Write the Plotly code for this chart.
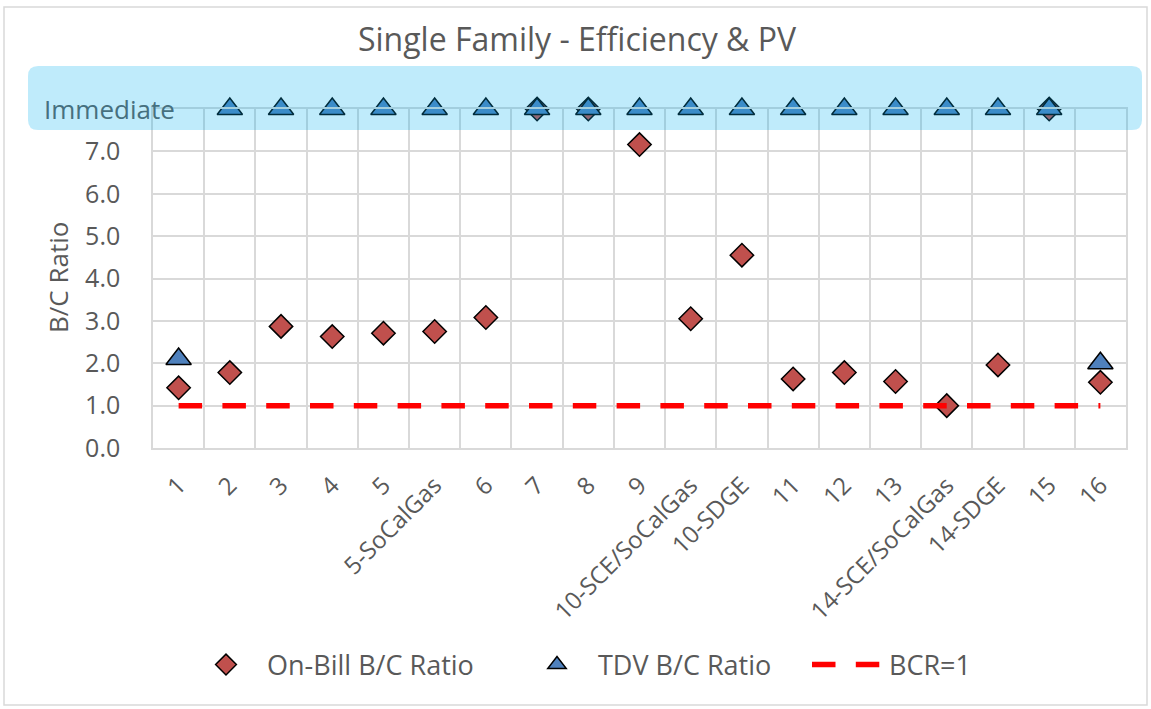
import plotly.graph_objects as go

categories = ["1", "2", "3", "4", "5", "5-SoCalGas", "6", "7", "8", "9",
              "10-SCE/SoCalGas", "10-SDGE", "11", "12", "13",
              "14-SCE/SoCalGas", "14-SDGE", "15", "16"]
IMMEDIATE = 8.0  # plotted position of "Immediate"
on_bill = [1.42, 1.78, 2.87, 2.63, 2.71, 2.75, 3.08, IMMEDIATE, IMMEDIATE, 7.16,
           3.05, 4.55, 1.63, 1.78, 1.57, 1.0, 1.96, IMMEDIATE, 1.55]
tdv = [2.1, IMMEDIATE, IMMEDIATE, IMMEDIATE, IMMEDIATE, IMMEDIATE, IMMEDIATE, IMMEDIATE,
       IMMEDIATE, IMMEDIATE, IMMEDIATE, IMMEDIATE, IMMEDIATE, IMMEDIATE, IMMEDIATE,
       IMMEDIATE, IMMEDIATE, IMMEDIATE, 2.0]
bcr = [1.0] * len(categories)
y_tickvals = [0, 1, 2, 3, 4, 5, 6, 7, 8]
y_ticktext = ["0.0", "1.0", "2.0", "3.0", "4.0", "5.0", "6.0", "7.0", ""]
immediate_label = "Immediate"

FONT = "Open Sans, sans-serif"
GREY = "#595959"
W, H = 1151, 709
ML, MR, MT, MB = 153, 25, 109, 261
PW, PH = W - ML - MR, H - MT - MB


def px_x(p):
    return (p - ML) / PW


def px_y(p):
    return (H - MB - p) / PH


fig = go.Figure()
fig.add_trace(go.Scatter(
    x=categories, y=on_bill, mode="markers", name="On-Bill B/C Ratio",
    marker=dict(symbol="diamond", size=18, color="#C0504D",
                line=dict(color="black", width=1.5)),
    cliponaxis=False, legend="legend"))
fig.add_trace(go.Scatter(
    x=categories, y=tdv, mode="markers", name="TDV B/C Ratio",
    marker=dict(symbol="triangle-up", size=22, color="#4F81BD",
                line=dict(color="black", width=1.5)),
    cliponaxis=False, legend="legend2"))
fig.add_trace(go.Scatter(
    x=categories, y=bcr, mode="lines", name="BCR=1",
    line=dict(color="#FF0000", width=5.5, dash="23.5px,20.3px"), legend="legend3"))

# rounded highlight band around "Immediate"
x0, x1, y0, y1 = px_x(28), px_x(1142), px_y(130), px_y(66)
rx, ry = 10 / PW, 10 / PH
path = (f"M {x0+rx},{y0} L {x1-rx},{y0} Q {x1},{y0} {x1},{y0+ry} "
        f"L {x1},{y1-ry} Q {x1},{y1} {x1-rx},{y1} L {x0+rx},{y1} "
        f"Q {x0},{y1} {x0},{y1-ry} L {x0},{y0+ry} Q {x0},{y0} {x0+rx},{y0} Z")
fig.add_shape(type="path", path=path, xref="paper", yref="paper",
              fillcolor="rgba(0,176,240,0.25)", line=dict(width=0), layer="above")

# outer chart frame
fig.add_shape(type="rect", xref="paper", yref="paper",
              x0=px_x(4), x1=px_x(1147), y0=px_y(705), y1=px_y(7),
              line=dict(color="#D9D9D9", width=1.5), fillcolor="rgba(0,0,0,0)",
              layer="below")

fig.add_annotation(text="B/C Ratio", xref="paper", yref="paper",
                   x=px_x(58), y=px_y(278), xanchor="center", yanchor="middle",
                   textangle=-90, showarrow=False,
                   font=dict(family=FONT, size=26, color=GREY))
fig.add_annotation(text=immediate_label, xref="paper", yref="y",
                   x=px_x(109.5), y=IMMEDIATE, xanchor="center", yanchor="middle",
                   showarrow=False,
                   font=dict(family=FONT, size=26, color="#46707F"))

leg_common = dict(orientation="h", yanchor="middle", y=px_y(665), xanchor="left",
                  font=dict(family=FONT, size=27, color=GREY), itemwidth=72,
                  bgcolor="rgba(0,0,0,0)")

fig.update_layout(
    width=W, height=H,
    margin=dict(l=ML, r=MR, t=MT, b=MB),
    paper_bgcolor="white", plot_bgcolor="white",
    font=dict(family=FONT, color=GREY, size=24),
    title=dict(text="Single Family - Efficiency & PV", x=577 / W, xanchor="center",
               y=1 - 40 / H, yanchor="middle",
               font=dict(family=FONT, size=32, color=GREY)),
    xaxis=dict(type="category", tickson="boundaries", showgrid=True,
               gridcolor="#D9D9D9", gridwidth=1.5, tickangle=-45,
               showline=True, linecolor="#D9D9D9", linewidth=1.5, mirror=True,
               ticks="", ticklabelstandoff=12,
               tickfont=dict(family=FONT, size=24, color=GREY),
               range=[-0.5, len(categories) - 0.5]),
    yaxis=dict(range=[0, 8], tickvals=y_tickvals, ticktext=y_ticktext,
               showgrid=True, gridcolor="#D9D9D9", gridwidth=1.5,
               showline=True, linecolor="#D9D9D9", linewidth=1.5, mirror=True,
               zeroline=False, ticks="", ticklen=0, ticklabelstandoff=26,
               tickfont=dict(family=FONT, size=25, color=GREY)),
    showlegend=True,
    legend=dict(x=px_x(185), **leg_common),
    legend2=dict(x=px_x(516), **leg_common),
    legend3=dict(x=px_x(807), **leg_common),
)

fig.write_html("out.html", config={"displayModeBar": False},
               post_script="document.body.style.margin='0';")
